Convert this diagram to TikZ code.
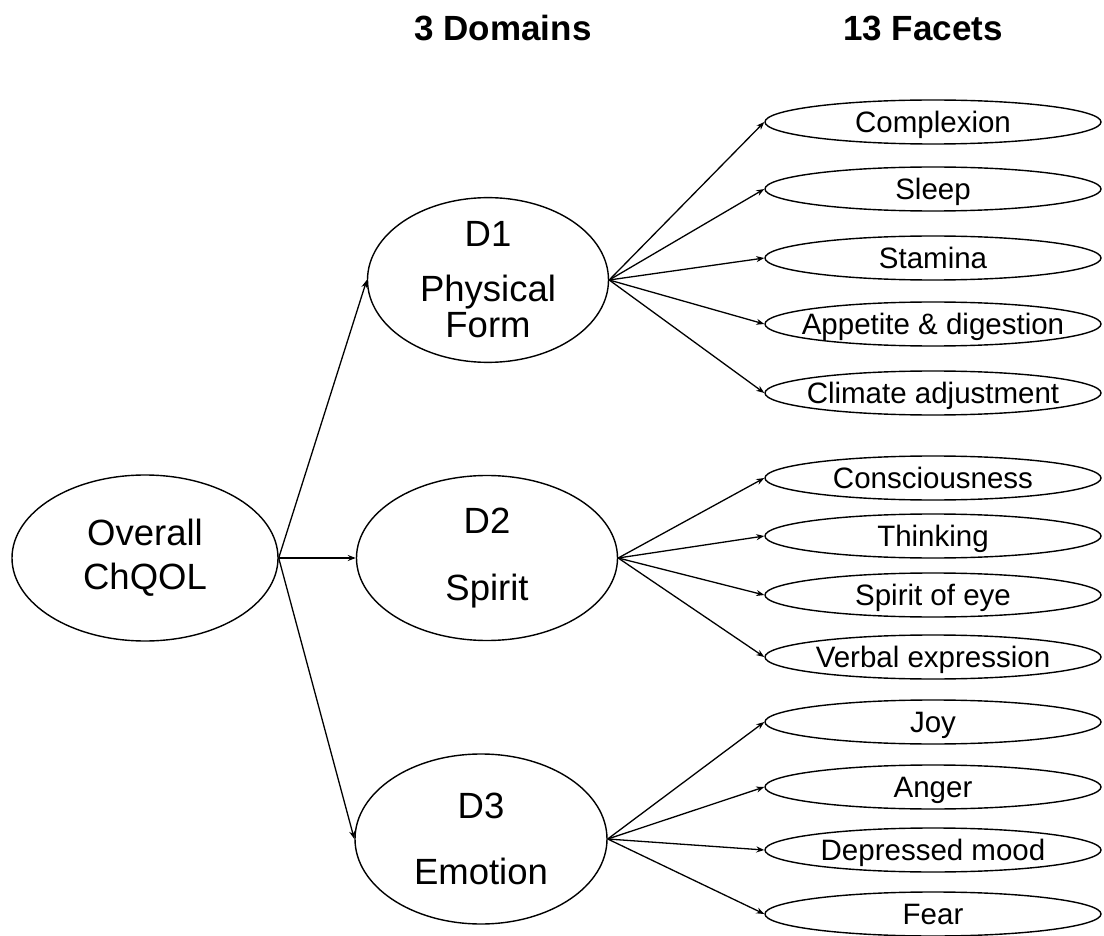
\documentclass[tikz,border=0pt]{standalone}
\usepackage{fontspec}
\setmainfont{Liberation Sans}
\usetikzlibrary{shapes.geometric,arrows.meta}
\newlength{\facetwidth}
\newlength{\facetheight}
\newlength{\linkwidth}
\setlength{\facetwidth}{336pt}
\setlength{\facetheight}{44pt}
\setlength{\linkwidth}{1.3pt}
\tikzstyle{domainnode} = [draw, ellipse, line width=1.4pt, inner sep=0, align=center, font=\fontsize{36.5}{43}\selectfont]
\tikzstyle{facetnode} = [draw, ellipse, line width=1.4pt, inner ysep=0, inner xsep=-80pt, text height=21pt, text depth=0pt, minimum width=\facetwidth, minimum height=\facetheight, font=\fontsize{29.5}{34}\selectfont]
\tikzstyle{heading} = [inner sep=0, font=\bfseries\fontsize{35}{42}\selectfont]
\tikzstyle{link} = [draw, line width=\linkwidth, -{Stealth[length=8pt,width=6pt]}]

\begin{document}
\begin{tikzpicture}[x=1pt, y=-1pt]
	\useasboundingbox (0,0) rectangle (1104,936);
	
	% column titles
	\node[heading] (domainstitle) at (503,28) {3 Domains};
	\node[heading] (facetstitle) at (923,28) {13 Facets};
	
	% overall and the three domains
	\node[domainnode, minimum width=266pt, minimum height=166pt] (overall) at (145,558) {Overall\\[1pt]ChQOL};
	\node[domainnode, minimum width=241pt, minimum height=155pt] (d1) at (488,280) {D1\\[12pt]Physical\\[-7pt]Form};
	\node[domainnode, minimum width=261pt, minimum height=165pt] (d2) at (487,558) {D2\\[24pt]Spirit};
	\node[domainnode, minimum width=252pt, minimum height=170pt] (d3) at (481,839) {D3\\[23pt]Emotion};
	
	\draw[link] (overall.east) -- (d1.west);
	\draw[link] (overall.east) -- (d2.west);
	\draw[link] (overall.east) -- (d3.west);
	
	% facets of D1
	\foreach \name/\y/\txt in {complexion/122/Complexion, sleep/189/Sleep, stamina/258/Stamina, appetite/324/Appetite \& digestion, climate/393/Climate adjustment}{
		\node[facetnode] (\name) at (933,\y) {\txt};
		\draw[link] (d1.east) -- (\name.west);
	}
	
	% facets of D2
	\foreach \name/\y/\txt in {consciousness/478/Consciousness, thinking/536/Thinking, spiriteye/595/Spirit of eye, verbal/657/Verbal expression}{
		\node[facetnode] (\name) at (933,\y) {\txt};
		\draw[link] (d2.east) -- (\name.west);
	}
	
	% facets of D3
	\foreach \name/\y/\txt in {joy/722/Joy, anger/787/Anger, depressed/850/Depressed mood, fear/914/Fear}{
		\node[facetnode] (\name) at (933,\y) {\txt};
		\draw[link] (d3.east) -- (\name.west);
	}
	
\end{tikzpicture}
\end{document}
